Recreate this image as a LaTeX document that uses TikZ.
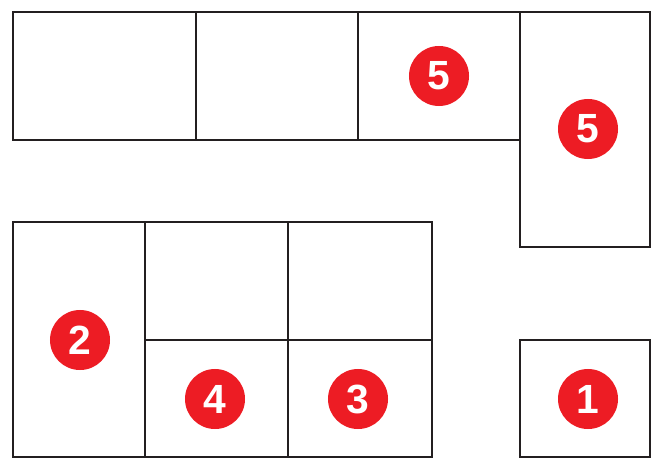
\documentclass[tikz,border=0pt]{standalone}
\usepackage{fontspec}
\setsansfont{Liberation Sans}
\usepackage{xcolor}
\usepackage{tikz}
\usetikzlibrary{positioning, calc}
\definecolor{BadgeRed}{HTML}{ED1C24}
\definecolor{WallGry} {HTML}{231F20}

\begin{document}
\begin{tikzpicture}[
  x=0.025cm, y=-0.025cm,
  room/.style  = {draw=WallGry, line width=2.1pt, line join=miter},
  badge/.style = {circle, fill=BadgeRed, minimum size=1.5cm, inner sep=0pt,
                  text=white, font=\fontsize{29}{29}\selectfont\sffamily\bfseries},
]
\useasboundingbox (0,0) rectangle (656,458);
% top row
\draw[room] (13,12) rectangle (520,140);
\draw[room] (196,12) -- (196,140);
\draw[room] (358,12) -- (358,140);
\draw[room] (520,12) rectangle (650,247);
% lower block
\draw[room] (13,222) rectangle (432,457);
\draw[room] (145,222) -- (145,457);
\draw[room] (288,222) -- (288,457);
\draw[room] (145,340) -- (432,340);
\draw[room] (520,340) rectangle (650,457);
% numbers
\node[badge] (b5a) at (439, 76) {5};
\node[badge] (b5b) at (588,129) {5};
\node[badge] (b2)  at ( 80,340) {2};
\node[badge] (b4)  at (215,399) {4};
\node[badge] (b3)  at (358,399) {3};
\node[badge] (b1)  at (588,399) {1};
\end{tikzpicture}
\end{document}
